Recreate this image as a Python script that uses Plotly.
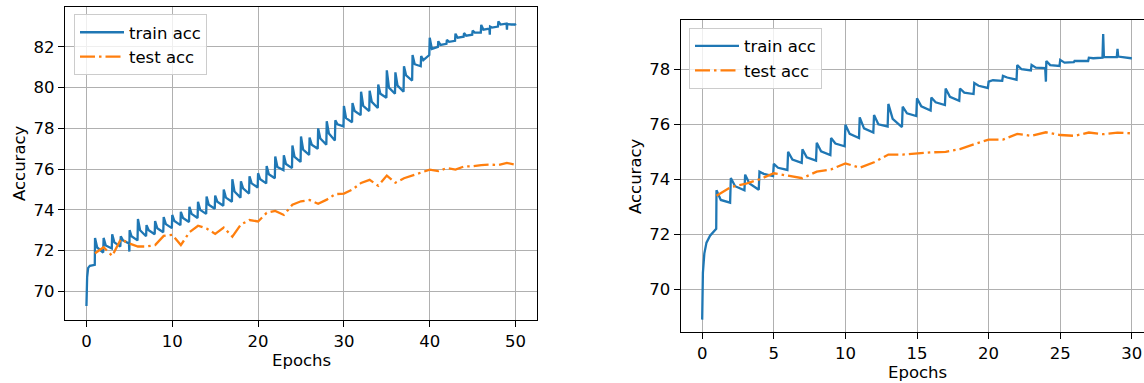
import plotly.graph_objects as go

# ---------------- data ----------------
# Left panel (50 epochs)
left_test_epoch = list(range(1, 51))
left_test_acc = [71.87, 72.16, 71.74, 72.55, 72.35, 72.2, 72.2, 72.27, 72.72, 72.77,
                 72.27, 72.9, 73.22, 73.08, 72.82, 73.13, 72.68, 73.28, 73.5, 73.43,
                 73.85, 73.95, 73.75, 74.25, 74.42, 74.48, 74.3, 74.5, 74.77, 74.8,
                 75.0, 75.32, 75.47, 75.18, 75.68, 75.33, 75.55, 75.68, 75.82, 75.97,
                 75.9, 76.05, 75.98, 76.13, 76.14, 76.2, 76.22, 76.2, 76.3, 76.22]

left_train_epoch = [0, 0.08, 0.2, 0.4, 0.97,
                    1.0, 1.25, 1.95, 2.0, 2.25, 2.95, 3.0, 3.25, 3.95, 4.0, 4.25, 4.95,
                    5.0, 5.03, 5.25, 5.95, 6.0, 6.25, 6.95, 7.0, 7.25, 7.95, 8.0, 8.25, 8.95,
                    9.0, 9.25, 9.95, 10.0, 10.25, 10.95, 11.0, 11.25, 11.95, 12.0, 12.25, 12.95,
                    13.0, 13.25, 13.95, 14.0, 14.25, 14.95, 15.0, 15.25, 15.95, 16.0, 16.25, 16.95,
                    17.0, 17.25, 17.95, 18.0, 18.25, 18.95, 19.0, 19.25, 19.95, 20.0, 20.25, 20.95,
                    21.0, 21.25, 21.95, 22.0, 22.25, 22.95, 23.0, 23.25, 23.95, 24.0, 24.25, 24.95,
                    25.0, 25.25, 25.95, 26.0, 26.25, 26.95, 27.0, 27.25, 27.95, 28.0, 28.25, 28.95,
                    29.0, 29.25, 29.95, 30.0, 30.25, 30.95, 31.0, 31.25, 31.95, 32.0, 32.25, 32.95,
                    33.0, 33.25, 33.95, 34.0, 34.25, 34.95, 35.0, 35.25, 35.95, 36.0, 36.25, 36.95,
                    37.0, 37.25, 37.95, 38.0, 38.25, 38.95, 39.0, 39.25, 39.95, 40.0, 40.25, 40.95,
                    41.0, 41.25, 41.95, 42.0, 42.25, 42.95, 43.0, 43.25, 43.95, 44.0, 44.25, 44.95,
                    45.0, 45.25, 45.95, 46.0, 46.25, 46.95, 47.0, 47.03, 47.25, 47.95,
                    48.0, 48.25, 48.95, 49.0, 49.03, 49.5, 49.95, 50.0]
left_train_acc = [69.28, 70.7, 71.15, 71.25, 71.3,
                  72.62, 72.15, 71.9, 72.62, 72.25, 72.1, 72.8, 72.4, 72.2, 72.7, 72.5, 72.35,
                  71.95, 73.0, 72.7, 72.5, 73.55, 73.0, 72.7, 73.25, 73.0, 72.8, 73.45, 73.1, 72.9,
                  73.65, 73.3, 73.1, 73.75, 73.45, 73.25, 73.9, 73.6, 73.4, 74.15, 73.8, 73.6,
                  74.4, 74.0, 73.8, 74.65, 74.25, 74.05, 74.7, 74.4, 74.2, 75.0, 74.6, 74.4,
                  75.5, 74.9, 74.6, 75.4, 75.05, 74.8, 75.65, 75.3, 75.1, 75.8, 75.5, 75.3,
                  76.15, 75.75, 75.55, 76.62, 76.1, 75.95, 76.68, 76.25, 76.05, 77.16, 76.6, 76.35,
                  77.6, 76.95, 76.7, 77.55, 77.2, 77.0, 78.0, 77.5, 77.2, 78.35, 77.75, 77.4,
                  78.4, 78.2, 78.1, 79.1, 78.5, 78.3, 79.25, 78.85, 78.65, 79.8, 79.1, 78.85,
                  79.85, 79.3, 79.0, 80.15, 79.7, 79.5, 80.85, 80.0, 79.7, 80.75, 80.1, 79.8,
                  81.05, 80.6, 80.35, 81.6, 81.15, 81.05, 81.55, 81.35, 81.6, 82.45, 81.9, 82.0,
                  82.28, 82.1, 82.15, 82.35, 82.25, 82.3, 82.65, 82.45, 82.5, 82.68, 82.55, 82.6,
                  82.8, 82.7, 82.7, 83.08, 82.85, 82.9, 82.6, 83.0, 82.95, 83.0,
                  83.25, 83.1, 83.15, 82.85, 83.12, 83.1, 83.1, 83.05]

# Right panel (30 epochs)
right_test_epoch = list(range(1, 31))
right_test_acc = [73.4, 73.72, 73.83, 74.0, 74.22, 74.12, 74.04, 74.28, 74.36, 74.58,
                  74.42, 74.62, 74.9, 74.9, 74.95, 74.98, 75.0, 75.1, 75.28, 75.44,
                  75.44, 75.65, 75.58, 75.71, 75.61, 75.58, 75.7, 75.64, 75.7, 75.67]

right_train_epoch = [0, 0.05, 0.15, 0.3, 0.55, 0.8, 0.98,
                     1.0, 1.3, 1.95, 2.0, 2.3, 2.95, 3.0, 3.3, 3.95, 4.0, 4.3, 4.95,
                     5.0, 5.3, 5.95, 6.0, 6.3, 6.95, 7.0, 7.3, 7.95, 8.0, 8.3, 8.95,
                     9.0, 9.3, 9.95, 10.0, 10.3, 10.95, 11.0, 11.3, 11.95, 12.0, 12.3, 12.95,
                     13.0, 13.3, 13.95, 14.0, 14.3, 14.95, 15.0, 15.3, 15.95, 16.0, 16.3, 16.95,
                     17.0, 17.3, 17.95, 18.0, 18.3, 18.95, 19.0, 19.3, 19.95, 20.0, 20.3, 20.95,
                     21.0, 21.3, 21.95, 22.0, 22.3, 22.95, 23.0, 23.3, 23.95,
                     24.0, 24.03, 24.3, 24.95, 25.0, 25.3, 25.95, 26.0, 26.3, 26.95,
                     27.0, 27.3, 27.95, 28.0, 28.05, 28.95, 29.0, 29.05, 29.95, 30.0]
right_train_acc = [68.9, 70.6, 71.3, 71.7, 71.95, 72.1, 72.2,
                   73.6, 73.25, 73.15, 74.05, 73.75, 73.6, 74.17, 73.85, 73.62, 74.28, 74.2, 74.12,
                   74.56, 74.42, 74.34, 75.0, 74.72, 74.6, 75.09, 74.8, 74.68, 75.33, 75.02, 74.88,
                   75.5, 75.3, 75.2, 75.98, 75.65, 75.5, 76.25, 75.85, 75.7, 76.34, 76.0, 75.92,
                   76.74, 76.2, 75.9, 76.64, 76.4, 76.3, 76.94, 76.65, 76.5, 76.97, 76.8, 76.7,
                   77.3, 77.0, 76.85, 77.3, 77.15, 77.1, 77.5, 77.4, 77.32, 77.55, 77.6, 77.58,
                   77.76, 77.7, 77.62, 78.15, 78.0, 77.96, 78.16, 78.06, 78.04,
                   77.55, 78.3, 78.15, 78.12, 78.34, 78.24, 78.26, 78.3, 78.3, 78.3,
                   78.42, 78.4, 78.42, 79.28, 78.44, 78.44, 78.74, 78.46, 78.4, 78.4]

left_xticks = [0, 10, 20, 30, 40, 50]
left_yticks = [70, 72, 74, 76, 78, 80, 82]
right_xticks = [0, 5, 10, 15, 20, 25, 30]
right_yticks = [70, 72, 74, 76, 78]

# ---------------- styling ----------------
W, H = 1144, 383
BLUE = "#1f77b4"
ORANGE = "#ff7f0e"
FONT = "DejaVu Sans"
FS = 16.5
DASH = "15px,4px,2.5px,4px"


def fx(p):
    return p / W


def fy(p):
    return 1 - p / H


fig = go.Figure()
fig.add_trace(go.Scatter(x=left_train_epoch, y=left_train_acc, mode="lines", name="train acc",
                         line=dict(color=BLUE, width=2.3), xaxis="x", yaxis="y", legend="legend"))
fig.add_trace(go.Scatter(x=left_test_epoch, y=left_test_acc, mode="lines", name="test acc",
                         line=dict(color=ORANGE, width=2.3, dash=DASH), xaxis="x", yaxis="y",
                         legend="legend"))
fig.add_trace(go.Scatter(x=right_train_epoch, y=right_train_acc, mode="lines", name="train acc",
                         line=dict(color=BLUE, width=2.3), xaxis="x2", yaxis="y2", legend="legend2"))
fig.add_trace(go.Scatter(x=right_test_epoch, y=right_test_acc, mode="lines", name="test acc",
                         line=dict(color=ORANGE, width=2.3, dash=DASH), xaxis="x2", yaxis="y2",
                         legend="legend2"))

common = dict(showline=True, linecolor="black", linewidth=1.3, ticks="outside", ticklen=6,
              tickwidth=1.3, tickcolor="black", showgrid=True, gridcolor="#b0b0b0", gridwidth=1.3,
              zeroline=False, tickfont=dict(family=FONT, size=FS, color="black"), automargin=False)

legend_common = dict(xanchor="left", yanchor="top", bgcolor="rgba(255,255,255,0.8)",
                     bordercolor="#cccccc", borderwidth=1,
                     font=dict(family=FONT, size=FS, color="black"), itemwidth=44)

fig.update_layout(
    width=W, height=H, margin=dict(l=0, r=0, t=0, b=0),
    paper_bgcolor="white", plot_bgcolor="white",
    font=dict(family=FONT, size=FS, color="black"),
    xaxis=dict(common, domain=[fx(65), fx(537)], range=[-2.5, 52.5], tickvals=left_xticks,
               anchor="y", mirror=True),
    yaxis=dict(common, domain=[fy(320), fy(7)], range=[68.59, 83.96], tickvals=left_yticks,
               anchor="x", mirror=True),
    xaxis2=dict(common, domain=[fx(680.7), 1.0], range=[-1.5, 30.85], tickvals=right_xticks,
                anchor="y2", mirror=True),
    yaxis2=dict(common, domain=[fy(332.3), fy(20)], range=[68.44, 79.79], tickvals=right_yticks,
                anchor="x2", mirror=False),
    legend=dict(legend_common, x=fx(74), y=fy(14)),
    legend2=dict(legend_common, x=fx(689), y=fy(27.7)),
    annotations=[
        dict(text="Epochs", x=fx(301), y=fy(360), xref="paper", yref="paper", showarrow=False,
             xanchor="center", yanchor="middle", font=dict(family=FONT, size=FS, color="black")),
        dict(text="Accuracy", x=fx(19.5), y=fy(163.5), xref="paper", yref="paper", showarrow=False,
             textangle=-90, xanchor="center", yanchor="middle",
             font=dict(family=FONT, size=FS, color="black")),
        dict(text="Epochs", x=fx(917), y=fy(372), xref="paper", yref="paper", showarrow=False,
             xanchor="center", yanchor="middle", font=dict(family=FONT, size=FS, color="black")),
        dict(text="Accuracy", x=fx(635), y=fy(176), xref="paper", yref="paper", showarrow=False,
             textangle=-90, xanchor="center", yanchor="middle",
             font=dict(family=FONT, size=FS, color="black")),
    ],
    showlegend=True,
)

# remove the default page margin so the figure sits at the window's top-left corner
fig.write_html("out.html", config={"displayModeBar": False},
               post_script="document.body.style.margin='0';document.body.style.overflow='hidden';")
